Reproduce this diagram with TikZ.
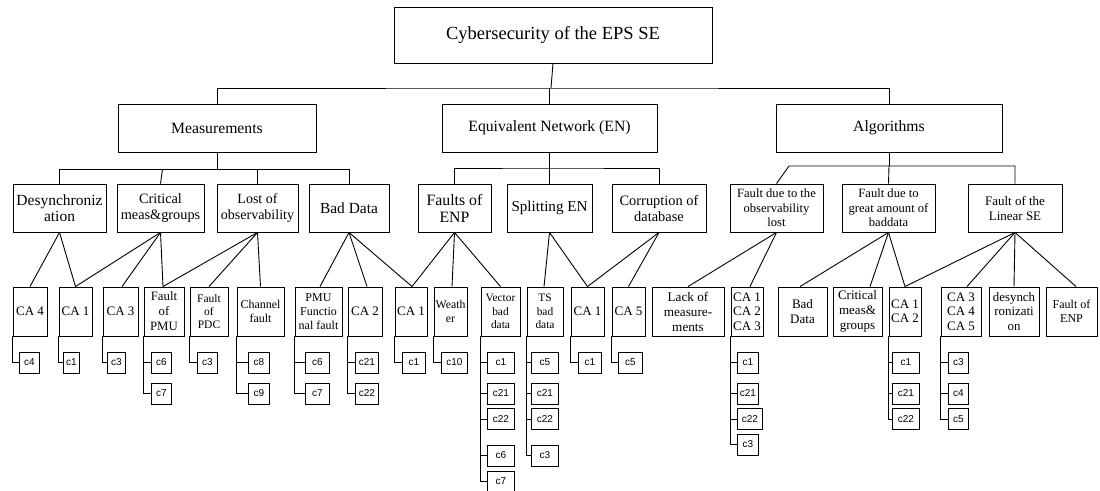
\documentclass[tikz,border=0pt]{standalone}
\usepackage{fontspec}
\setmainfont{Liberation Serif}
\newfontfamily\csans{Liberation Sans}
\begin{document}
\begin{tikzpicture}[x=1pt,y=-1pt,
  box/.style={draw, line width=0.9pt, inner sep=0pt, align=center},
  lA/.style={box, minimum height=48pt, font=\fontsize{15.7}{17}\selectfont},
  lB/.style={box, minimum height=48pt},
  lC/.style={box, minimum height=49pt, font=\fontsize{13}{14.5}\selectfont},
  cbox/.style={draw, line width=0.9pt, inner sep=0pt, minimum height=21pt, anchor=west, font=\csans\fontsize{10}{12}\selectfont},
  link/.style={line width=0.9pt}]
\useasboundingbox (0,0) rectangle (1100,490);

% root
\node[box, minimum width=318pt, minimum height=56pt, font=\fontsize{18.5}{20}\selectfont] (root) at (553,35) {Cybersecurity of the EPS SE};

% level 1
\node[lA, minimum width=198pt] (meas) at (217,128) {Measurements};
\node[lA, minimum width=215pt] (en) at (549.5,128) {Equivalent Network (EN)};
\node[lA, minimum width=226pt] (alg) at (889,128) {Algorithms};

% level 2
\node[lB, minimum width=93pt, font=\fontsize{15.5}{16}\selectfont] (desync) at (59.5,208) {Desynchroniz\\ation};
\node[lB, minimum width=87pt, font=\fontsize{14.3}{16}\selectfont] (crit) at (160.5,208) {Critical\\meas\&groups};
\node[lB, minimum width=81pt, font=\fontsize{14}{16}\selectfont] (lost) at (257.5,208) {Lost of\\observability};
\node[lB, minimum width=80pt, font=\fontsize{15.4}{17}\selectfont] (bad) at (349,208) {Bad Data};
\node[lB, minimum width=73pt, font=\fontsize{15.8}{17}\selectfont] (fenp) at (454.5,208) {Faults of\\ENP};
\node[lB, minimum width=85pt, font=\fontsize{15.1}{17}\selectfont] (split) at (549.5,208) {Splitting EN};
\node[lB, minimum width=94pt, font=\fontsize{14.4}{16}\selectfont] (corr) at (659,208) {Corruption of\\database};
\node[lB, minimum width=93pt, font=\fontsize{12.6}{14.6}\selectfont] (fobs) at (776.5,208) {Fault due to the\\observability\\lost};
\node[lB, minimum width=93pt, font=\fontsize{12.6}{14.6}\selectfont] (fbad) at (888.5,208) {Fault due to\\great amount of\\baddata};
\node[lB, minimum width=94pt, font=\fontsize{13}{15}\selectfont] (flin) at (1015,208) {Fault of the\\Linear SE};

% level 3
\node[lC, minimum width=34pt] (ca4) at (30,311.5) {CA 4};
\node[lC, minimum width=33pt] (ca1a) at (75.5,311.5) {CA 1};
\node[lC, minimum width=35pt] (ca3) at (120.5,311.5) {CA 3};
\node[lC, minimum width=40pt, font=\fontsize{12.8}{15}\selectfont] (fpmu) at (164,311.5) {Fault\\of\\PMU};
\node[lC, minimum width=38pt, font=\fontsize{11.5}{13}\selectfont] (fpdc) at (209,311.5) {Fault\\of\\PDC};
\node[lC, minimum width=47pt, font=\fontsize{12}{14}\selectfont] (chan) at (260.5,311.5) {Channel\\fault};
\node[lC, minimum width=47pt, font=\fontsize{12}{14}\selectfont] (pmuf) at (318.5,311.5) {PMU\\Functio\\nal fault};
\node[lC, minimum width=34pt] (ca2) at (365,311.5) {CA 2};
\node[lC, minimum width=32pt] (ca1b) at (411,311.5) {CA 1};
\node[lC, minimum width=33pt, font=\fontsize{11.8}{14}\selectfont] (weather) at (450.5,311.5) {Weath\\er};
\node[lC, minimum width=39pt, font=\fontsize{11.4}{13.7}\selectfont] (vbd) at (500.5,311.5) {Vector\\bad\\data};
\node[lC, minimum width=36pt, font=\fontsize{11.4}{13.7}\selectfont] (tsbd) at (545,311.5) {TS\\bad\\data};
\node[lC, minimum width=33pt] (ca1c) at (587.5,311.5) {CA 1};
\node[lC, minimum width=33pt] (ca5) at (628.5,311.5) {CA 5};
\node[lC, minimum width=72pt, font=\fontsize{13.2}{15}\selectfont] (lack) at (688,311.5) {Lack of\\measure-\\ments};
\node[lC, minimum width=32pt] (ca123) at (747,311.5) {CA 1\\CA 2\\CA 3};
\node[lC, minimum width=49pt, font=\fontsize{13}{15}\selectfont] (bdat) at (802.5,311.5) {Bad\\Data};
\node[lC, minimum width=49pt, font=\fontsize{13}{15}\selectfont] (cmg) at (857.5,311.5) {Critical\\meas\&\\groups};
\node[lC, minimum width=32pt] (ca12) at (905,311.5) {CA 1\\CA 2};
\node[lC, minimum width=40pt] (ca345) at (961,311.5) {CA 3\\CA 4\\CA 5};
\node[lC, minimum width=50pt, font=\fontsize{12.9}{14.5}\selectfont] (desy) at (1014,311.5) {desynch\\ronizati\\on};
\node[lC, minimum width=51pt, font=\fontsize{12}{14}\selectfont] (fenpb) at (1071.5,311.5) {Fault of\\ENP};

% level 4 (c boxes)
\node[cbox, minimum width=20pt] (k1) at (19,362.5) {c4};
\node[cbox, minimum width=16pt] (k2) at (63,362.5) {c1};
\node[cbox, minimum width=18pt] (k3) at (107,362.5) {c3};
\node[cbox, minimum width=20pt] (k4) at (151,362.5) {c6};
\node[cbox, minimum width=20pt] (k5) at (151,393.5) {c7};
\node[cbox, minimum width=20pt] (k6) at (197,362.5) {c3};
\node[cbox, minimum width=21pt] (k7) at (248,362.5) {c8};
\node[cbox, minimum width=21pt] (k8) at (248,393.5) {c9};
\node[cbox, minimum width=24pt] (k9) at (305,362.5) {c6};
\node[cbox, minimum width=24pt] (k10) at (305,393.5) {c7};
\node[cbox, minimum width=23pt] (k11) at (355,362.5) {c21};
\node[cbox, minimum width=23pt] (k12) at (355,393.5) {c22};
\node[cbox, minimum width=23pt] (k13) at (402,362.5) {c1};
\node[cbox, minimum width=26pt] (k14) at (441,362.5) {c10};
\node[cbox, minimum width=27pt] (k15) at (487,362.5) {c1};
\node[cbox, minimum width=27pt] (k16) at (487,393.5) {c21};
\node[cbox, minimum width=27pt] (k17) at (487,419) {c22};
\node[cbox, minimum width=27pt] (k18) at (487,455.5) {c6};
\node[cbox, minimum width=27pt] (k19) at (487,481.5) {c7};
\node[cbox, minimum width=27pt] (k20) at (531,362.5) {c5};
\node[cbox, minimum width=27pt] (k21) at (531,393.5) {c21};
\node[cbox, minimum width=27pt] (k22) at (531,419) {c22};
\node[cbox, minimum width=27pt] (k23) at (531,455.5) {c3};
\node[cbox, minimum width=23pt] (k24) at (578,362.5) {c1};
\node[cbox, minimum width=24pt] (k25) at (618,362.5) {c5};
\node[cbox, minimum width=21pt] (k26) at (737,362.5) {c1};
\node[cbox, minimum width=21pt] (k27) at (737,393.5) {c21};
\node[cbox, minimum width=25pt] (k28) at (737,419) {c22};
\node[cbox, minimum width=21pt] (k29) at (737,444.5) {c3};
\node[cbox, minimum width=27pt] (k30) at (892,362.5) {c1};
\node[cbox, minimum width=27pt] (k31) at (892,393.5) {c21};
\node[cbox, minimum width=27pt] (k32) at (892,419) {c22};
\node[cbox, minimum width=20pt] (k33) at (948,362.5) {c3};
\node[cbox, minimum width=20pt] (k34) at (948,393.5) {c4};
\node[cbox, minimum width=20pt] (k35) at (948,419) {c5};

% buses
\coordinate (busT) at (551,88);
\coordinate (busM) at (217,169);
\coordinate (busE) at (549.5,168);
\coordinate (busA) at (889,166);
\coordinate (busAl) at (789,166);

\draw[link] (root.south) -- (busT);
\draw[link] (meas.north) |- (busT) -| (alg.north);
\draw[link] (en.north) -- (en.north |- busT);

\draw[link] (meas.south) -- (busM);
\draw[link] (desync.north) |- (busM);
\draw[link] (bad.north) |- (busM);
\draw[link] (crit.north) -- ([xshift=2pt]crit.north |- busM);
\draw[link] (lost.north) -- (lost.north |- busM);

\draw[link] (en.south) -- (busE);
\draw[link] (fenp.north) |- (busE) -| (corr.north);
\draw[link] (split.north) -- (split.north |- busE);

\draw[link] (alg.south) -- (busA);
\draw[link] (fobs.north) -- (busAl) -- (busA) -| (flin.north);
\draw[link] (fbad.north) -- (busA);

% level 2 -> level 3
\draw[link] (desync.south) -- (ca4.north);
\draw[link] (desync.south) -- (ca1a.north);
\draw[link] (crit.south) -- (ca1a.north);
\draw[link] (crit.south) -- ([xshift=1.5pt]ca3.north);
\draw[link] (crit.south) -- ([xshift=-1pt]fpmu.north);
\draw[link] (lost.south) -- ([xshift=-1pt]fpmu.north);
\draw[link] (lost.south) -- (fpdc.north);
\draw[link] (lost.south) -- (chan.north);
\draw[link] (bad.south) -- ([xshift=1.5pt]pmuf.north);
\draw[link] (bad.south) -- ([xshift=2pt]ca2.north);
\draw[link] (bad.south) -- ([xshift=1pt]ca1b.north);
\draw[link] (fenp.south) -- ([xshift=1pt]ca1b.north);
\draw[link] (fenp.south) -- ([xshift=1.5pt]weather.north);
\draw[link] (fenp.south) -- (vbd.north);
\draw[link] (split.south) -- ([xshift=-1pt]tsbd.north);
\draw[link] (split.south) -- (ca1c.north);
\draw[link] (corr.south) -- (ca1c.north);
\draw[link] (corr.south) -- (ca5.north);
\draw[link] (fobs.south) -- (lack.north);
\draw[link] (fobs.south) -- ([xshift=3pt]ca123.north);
\draw[link] (fbad.south) -- ([xshift=-2.5pt]bdat.north);
\draw[link] (fbad.south) -- ([xshift=12.5pt]cmg.north);
\draw[link] (fbad.south) -- (ca12.north);
\draw[link] (flin.south) -- (ca12.north);
\draw[link] (flin.south) -- ([xshift=6pt]ca345.north);
\draw[link] (flin.south) -- (desy.north);
\draw[link] (flin.south) -- ([xshift=4.5pt]fenpb.north);

% level 3 -> c boxes
\draw[link] (ca4.south west) |- (k1.west);
\draw[link] (ca1a.south west) |- (k2.west);
\draw[link] (ca3.south west) |- (k3.west);
\draw[link] (fpmu.south west) |- (k4.west);
\draw[link] (fpmu.south west) |- (k5.west);
\draw[link] (fpdc.south west) |- (k6.west);
\draw[link] (chan.south west) |- (k7.west);
\draw[link] (chan.south west) |- (k8.west);
\draw[link] (pmuf.south west) |- (k9.west);
\draw[link] (pmuf.south west) |- (k10.west);
\draw[link] (ca2.south west) |- (k11.west);
\draw[link] (ca2.south west) |- (k12.west);
\draw[link] (ca1b.south west) |- (k13.west);
\draw[link] (weather.south west) |- (k14.west);
\draw[link] (vbd.south west) |- (k15.west);
\draw[link] (vbd.south west) |- (k16.west);
\draw[link] (vbd.south west) |- (k17.west);
\draw[link] (vbd.south west) |- (k18.west);
\draw[link] (vbd.south west) |- (k19.west);
\draw[link] (tsbd.south west) |- (k20.west);
\draw[link] (tsbd.south west) |- (k21.west);
\draw[link] (tsbd.south west) |- (k22.west);
\draw[link] (tsbd.south west) |- (k23.west);
\draw[link] (ca1c.south west) |- (k24.west);
\draw[link] (ca5.south west) |- (k25.west);
\draw[link] (ca123.south west) |- (k26.west);
\draw[link] (ca123.south west) |- (k27.west);
\draw[link] (ca123.south west) |- (k28.west);
\draw[link] (ca123.south west) |- (k29.west);
\draw[link] (ca12.south west) |- (k30.west);
\draw[link] (ca12.south west) |- (k31.west);
\draw[link] (ca12.south west) |- (k32.west);
\draw[link] (ca345.south west) |- (k33.west);
\draw[link] (ca345.south west) |- (k34.west);
\draw[link] (ca345.south west) |- (k35.west);
\end{tikzpicture}
\end{document}
